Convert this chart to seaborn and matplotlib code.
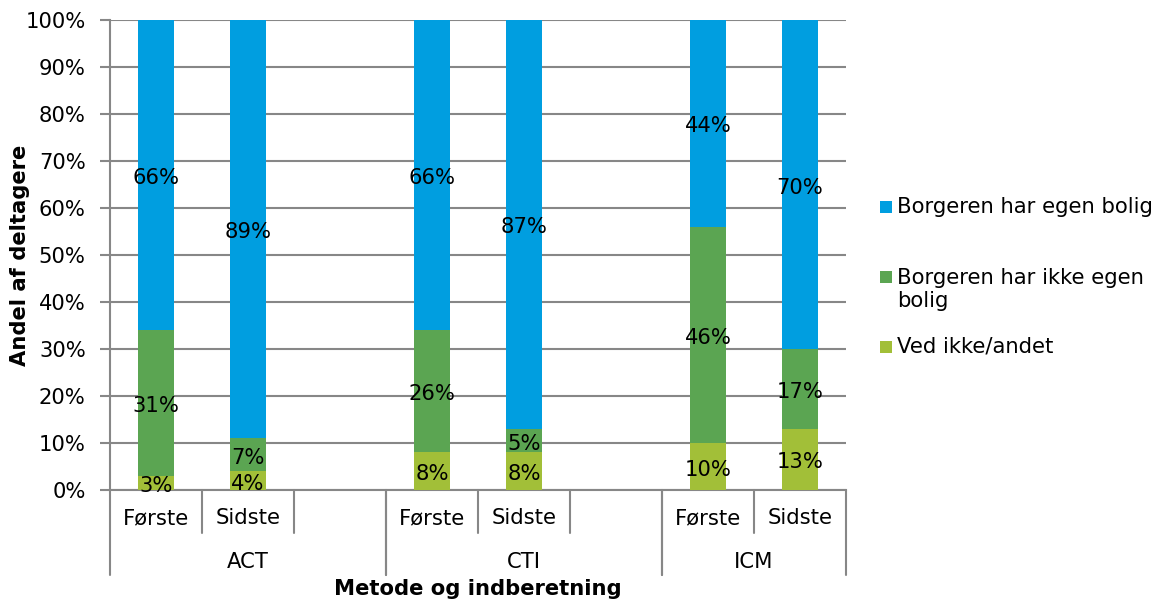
import numpy as np
import pandas as pd
import seaborn as sns
import matplotlib.pyplot as plt
import matplotlib.transforms as mtransforms
from matplotlib.patches import Rectangle

# Housing status per method and report (percent of participants)
methods = ["ACT", "ACT", "CTI", "CTI", "ICM", "ICM"]
reports = ["Første", "Sidste", "Første", "Sidste", "Første", "Sidste"]
ved_ikke = [3, 4, 8, 8, 10, 13]
ikke_egen = [31, 7, 26, 5, 46, 17]
egen = [66, 89, 66, 87, 44, 70]

series_labels = ["Borgeren har egen bolig", "Borgeren har ikke egen\nbolig", "Ved ikke/andet"]
series_colors = ["#009EE0", "#5BA552", "#A2BF38"]
group_names = ["ACT", "CTI", "ICM"]
y_ticks = [0, 10, 20, 30, 40, 50, 60, 70, 80, 90, 100]

# Category slots: each method gets its reports plus a spacer slot (except the last)
slot_order = ["ACT Første", "ACT Sidste", "ACT gap",
              "CTI Første", "CTI Sidste", "CTI gap",
              "ICM Første", "ICM Sidste"]
slot_labels = ["Første", "Sidste", "", "Første", "Sidste", "", "Første", "Sidste"]

df = pd.DataFrame({
    "slot": [f"{m} {r}" for m, r in zip(methods, reports)],
    "ved": ved_ikke,
    "ikke": ikke_egen,
    "egen": egen,
})
df["top_ikke"] = df["ved"] + df["ikke"]
df["top_egen"] = df["top_ikke"] + df["egen"]

sns.set_style("white")
plt.rcParams["font.family"] = ["DejaVu Sans"]
plt.rcParams["text.color"] = "black"
plt.rcParams["axes.labelcolor"] = "black"
plt.rcParams["xtick.labelcolor"] = "black"
plt.rcParams["ytick.labelcolor"] = "black"
FS = 15.2
GRID = "#878787"

fig = plt.figure(figsize=(11.62, 6.01), dpi=100)
W, H = 1162, 601
ax = fig.add_axes([110 / W, 1 - 490 / H, (846 - 110) / W, (490 - 20) / H])

# Stacked bars: draw cumulative totals from the top segment down
for col, color in zip(["top_egen", "top_ikke", "ved"], series_colors):
    sns.barplot(data=df, x="slot", y=col, order=slot_order, color=color,
                saturation=1, width=0.4, errorbar=None, ax=ax, zorder=3,
                linewidth=0)

# Segment value labels at segment centres
pos = {s: i for i, s in enumerate(slot_order)}
label_trans = mtransforms.offset_copy(ax.transData, fig=fig, y=-3, units="dots")
for _, row in df.iterrows():
    x = pos[row["slot"]]
    bottoms = [0, row["ved"], row["top_ikke"]]
    for b, v in zip(bottoms, [row["ved"], row["ikke"], row["egen"]]):
        ax.text(x, b + v / 2, f"{v}%", ha="center", va="center",
                fontsize=FS, color="black", zorder=5, transform=label_trans)

ax.set_xlim(-0.5, len(slot_order) - 0.5)
ax.set_ylim(0, 100)
ax.set_yticks(y_ticks)
ax.set_yticklabels([f"{t}%" for t in y_ticks], fontsize=FS)
ax.yaxis.grid(True, color=GRID, linewidth=1.5, zorder=0)
ax.set_axisbelow(True)
ax.tick_params(axis="y", length=7, width=1.5, color=GRID, pad=10.5, direction="out", left=True)

ax.set_xticks(range(len(slot_order)))
ax.set_xticklabels(slot_labels, fontsize=FS)
ax.tick_params(axis="x", length=0, pad=13)

for side in ["top", "right"]:
    ax.spines[side].set_visible(False)
for side in ["left", "bottom"]:
    ax.spines[side].set_color(GRID)
    ax.spines[side].set_linewidth(1.5)

ax.set_xlabel("")
ax.set_ylabel("Andel af deltagere", fontsize=FS, fontweight="bold")
ax.yaxis.set_label_coords(-(110 - 20) / 736, 0.5)
ax.yaxis.label.set_verticalalignment("center")

# Two-level category axis: dividers and method names
trans = mtransforms.blended_transform_factory(ax.transData, ax.transAxes)
axis_h = 470.0
minor_y = -(533 - 490) / axis_h
major_y = -(575 - 490) / axis_h
group_bounds = [(-0.5, 2.5), (2.5, 5.5), (5.5, 7.5)]
for lo, hi in group_bounds:
    for xb in (lo, hi):
        ax.plot([xb, xb], [0, major_y], transform=trans, color=GRID,
                linewidth=1.5, clip_on=False)
for xb in [0.5, 1.5, 3.5, 4.5, 6.5]:
    ax.plot([xb, xb], [0, minor_y], transform=trans, color=GRID,
            linewidth=1.5, clip_on=False)
for name, (lo, hi) in zip(group_names, group_bounds):
    ax.text((lo + hi) / 2, -(562 - 490) / axis_h, name, transform=trans,
            ha="center", va="center", fontsize=FS)

ax.text(0.5, -(589 - 490) / axis_h, "Metode og indberetning", transform=ax.transAxes,
        ha="center", va="center", fontsize=FS, fontweight="bold")

# Legend
legend_y = [207, 289.5, 347]
marker_y = [207, 277, 347]
for lbl, color, ty, my in zip(series_labels, series_colors, legend_y, marker_y):
    fig.add_artist(Rectangle((880 / W, 1 - (my + 6) / H), 12 / W, 12 / H,
                             transform=fig.transFigure, facecolor=color,
                             edgecolor="none"))
    fig.text(897 / W, 1 - ty / H, lbl, ha="left", va="center", fontsize=FS,
             linespacing=1.2)

fig.savefig("out.png", dpi=100)
